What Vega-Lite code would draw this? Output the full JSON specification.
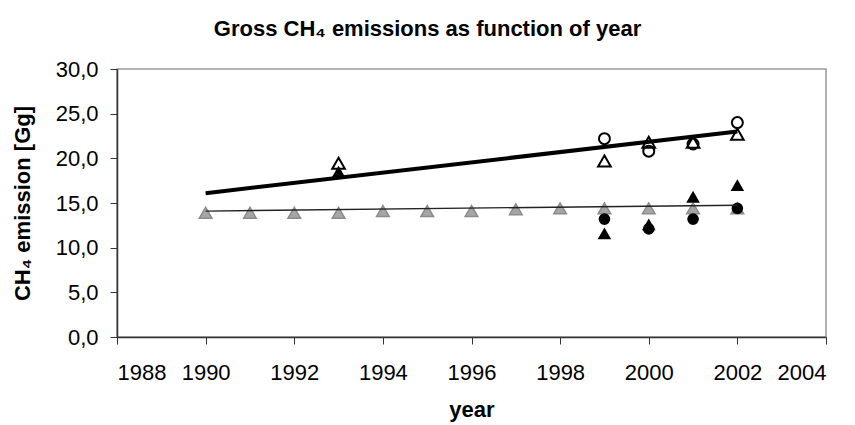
{
  "$schema": "https://vega.github.io/schema/vega-lite/v6.json",
  "autosize": "none",
  "width": 709,
  "height": 268,
  "padding": {"left": 117, "top": 69, "right": 29, "bottom": 88},
  "background": "white",
  "config": {
    "font": "Liberation Sans",
    "view": {"stroke": "#999999", "strokeWidth": 1.5}
  },
  "title": {
    "text": "Gross CH₄ emissions as function of year",
    "font": "Liberation Sans",
    "fontSize": 22,
    "fontWeight": "bold",
    "color": "black",
    "anchor": "middle",
    "dx": -44,
    "offset": 17
  },
  "datasets": {
    "pts": [
      {"series": "grey", "year": 1990, "value": 13.9},
      {"series": "grey", "year": 1991, "value": 13.9},
      {"series": "grey", "year": 1992, "value": 13.9},
      {"series": "grey", "year": 1993, "value": 13.9},
      {"series": "grey", "year": 1994, "value": 14.1},
      {"series": "grey", "year": 1995, "value": 14.1},
      {"series": "grey", "year": 1996, "value": 14.1},
      {"series": "grey", "year": 1997, "value": 14.3},
      {"series": "grey", "year": 1998, "value": 14.4},
      {"series": "grey", "year": 1999, "value": 14.4},
      {"series": "grey", "year": 2000, "value": 14.4},
      {"series": "grey", "year": 2001, "value": 14.4},
      {"series": "grey", "year": 2002, "value": 14.4},
      {"series": "filled_circle", "year": 1999, "value": 13.2},
      {"series": "filled_circle", "year": 2000, "value": 12.1},
      {"series": "filled_circle", "year": 2001, "value": 13.2},
      {"series": "filled_circle", "year": 2002, "value": 14.4},
      {"series": "filled_triangle", "year": 1993, "value": 18.5},
      {"series": "filled_triangle", "year": 1999, "value": 11.6},
      {"series": "filled_triangle", "year": 2000, "value": 12.6},
      {"series": "filled_triangle", "year": 2001, "value": 15.7},
      {"series": "filled_triangle", "year": 2002, "value": 17.0},
      {"series": "open_circle", "year": 1999, "value": 22.2},
      {"series": "open_circle", "year": 2000, "value": 20.8},
      {"series": "open_circle", "year": 2001, "value": 21.6},
      {"series": "open_circle", "year": 2002, "value": 24.0},
      {"series": "open_triangle", "year": 1993, "value": 19.45},
      {"series": "open_triangle", "year": 1999, "value": 19.7},
      {"series": "open_triangle", "year": 2000, "value": 21.8},
      {"series": "open_triangle", "year": 2001, "value": 21.8},
      {"series": "open_triangle", "year": 2002, "value": 22.7}
    ],
    "trends": [
      {"series": "thick", "year": 1990, "value": 16.1},
      {"series": "thick", "year": 2002, "value": 23.0},
      {"series": "thin", "year": 1990, "value": 14.1},
      {"series": "thin", "year": 2002, "value": 14.75}
    ]
  },
  "encoding": {
    "x": {
      "field": "year",
      "type": "quantitative",
      "scale": {"domain": [1988, 2004], "nice": false, "zero": false},
      "axis": {
        "title": "year",
        "values": [1988, 1990, 1992, 1994, 1996, 1998, 2000, 2002, 2004],
        "format": "d",
        "grid": false,
        "domainColor": "#333333",
        "domainWidth": 1.5,
        "tickColor": "#333333",
        "tickSize": 7,
        "labelFontSize": 22,
        "labelColor": "black",
        "labelPadding": 18,
        "labelFont": "Liberation Sans",
        "titleFont": "Liberation Sans",
        "titleFontSize": 22,
        "titleFontWeight": "bold",
        "titleColor": "black",
        "titlePadding": 16
      }
    },
    "y": {
      "field": "value",
      "type": "quantitative",
      "scale": {"domain": [0, 30], "nice": false},
      "axis": {
        "title": "CH₄ emission [Gg]",
        "values": [0, 5, 10, 15, 20, 25, 30],
        "labelExpr": "replace(format(datum.value, '.1f'), '.', ',')",
        "grid": false,
        "domainColor": "#333333",
        "domainWidth": 1.5,
        "tickColor": "#333333",
        "tickSize": 7,
        "labelFontSize": 22,
        "labelColor": "black",
        "labelPadding": 12,
        "labelFont": "Liberation Sans",
        "titleFont": "Liberation Sans",
        "titleFontSize": 22,
        "titleFontWeight": "bold",
        "titleColor": "black",
        "titlePadding": 21
      }
    }
  },
  "layer": [
    {
      "data": {"name": "pts"},
      "transform": [{"filter": "datum.series === 'grey'"}],
      "mark": {"type": "point", "shape": "triangle-up", "filled": true, "fill": "#a6a6a6", "stroke": "#8c8c8c", "strokeWidth": 1.5, "opacity": 1, "size": 160}
    },
    {
      "data": {"name": "pts"},
      "transform": [{"filter": "datum.series === 'filled_circle'"}],
      "mark": {"type": "point", "shape": "circle", "filled": true, "fill": "black", "opacity": 1, "size": 135}
    },
    {
      "data": {"name": "pts"},
      "transform": [{"filter": "datum.series === 'filled_triangle'"}],
      "mark": {"type": "point", "shape": "triangle-up", "filled": true, "fill": "black", "opacity": 1, "size": 185}
    },
    {
      "data": {"name": "pts"},
      "transform": [{"filter": "datum.series === 'open_circle'"}],
      "mark": {"type": "point", "shape": "circle", "filled": false, "stroke": "black", "strokeWidth": 2, "opacity": 1, "size": 120}
    },
    {
      "data": {"name": "pts"},
      "transform": [{"filter": "datum.series === 'open_triangle'"}],
      "mark": {"type": "point", "shape": "triangle-up", "filled": false, "stroke": "black", "strokeWidth": 2, "opacity": 1, "size": 160}
    },
    {
      "data": {"name": "trends"},
      "transform": [{"filter": "datum.series === 'thin'"}],
      "mark": {"type": "line", "color": "#222222", "strokeWidth": 1.3}
    },
    {
      "data": {"name": "trends"},
      "transform": [{"filter": "datum.series === 'thick'"}],
      "mark": {"type": "line", "color": "black", "strokeWidth": 4}
    }
  ]
}
